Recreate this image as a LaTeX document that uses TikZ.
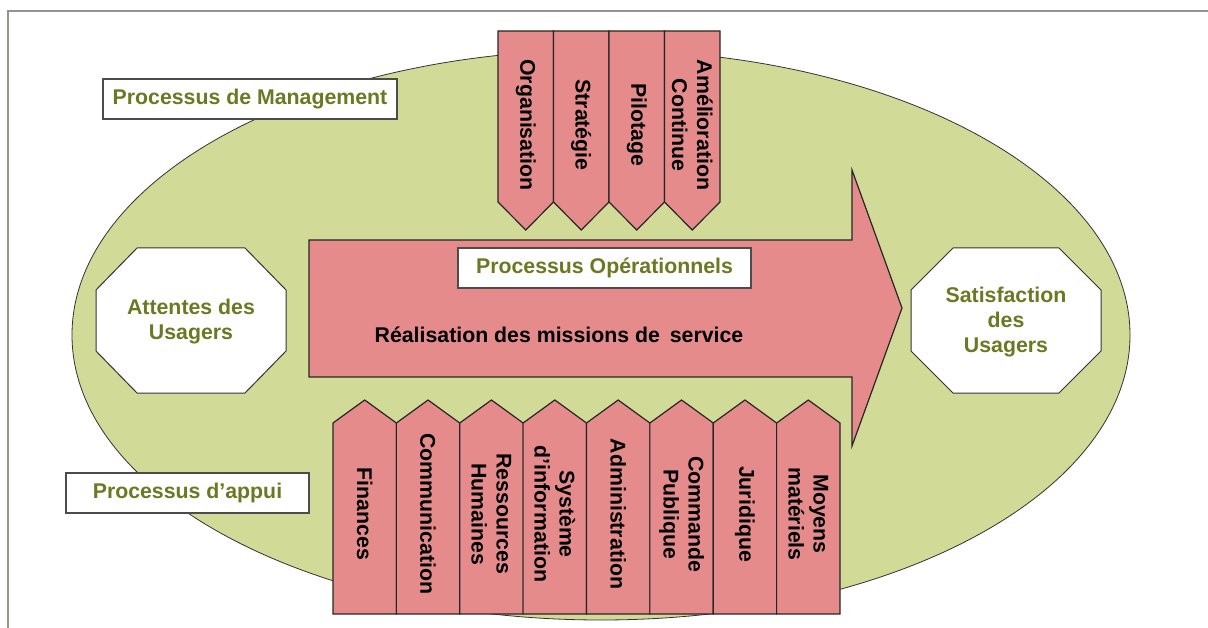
\documentclass[tikz,border=0pt]{standalone}
\usepackage{fontspec}
\setmainfont{Liberation Sans}
\definecolor{ellfill}{RGB}{210,218,152}
\definecolor{pinkfill}{RGB}{229,139,139}
\definecolor{olivetext}{RGB}{108,120,34}
\definecolor{framegray}{RGB}{150,148,138}
\begin{document}
\begin{tikzpicture}[x=1pt,y=-1pt,
  lbl/.style={font=\bfseries\fontsize{21.3}{25}\selectfont, align=center, inner sep=0pt},
  vlab/.style={lbl, rotate=-90},
  labelbox/.style={lbl, draw=black!70, fill=white, line width=1.2pt, text=olivetext},
  pinkshape/.style={fill=pinkfill, draw=black!85, line width=1.2pt, line join=miter},
  octo/.style={fill=white, draw=black!80, line width=1pt},
  greentext/.style={lbl, text=olivetext}]
\useasboundingbox (0,0) rectangle (1208,628);
% frame
\draw[framegray, line width=2pt] (8,628) -- (8,11) -- (1208,11);
% ellipse
\draw[fill=ellfill, draw=black!80, line width=0.8pt] (601,335) ellipse [x radius=529, y radius=285];
% label boxes
\node[labelbox, minimum width=294pt, minimum height=40pt] (mgmt) at (250,99) {Processus de Management};
\node[labelbox, minimum width=243pt, minimum height=40pt] (appui) at (187.5,493) {Processus d’appui};
% big arrow
\draw[pinkshape] (309,240) -- (852,240) -- (852,170) -- (902,308) -- (852,446) -- (852,377) -- (309,377) -- cycle;
\node[labelbox, minimum width=293pt, minimum height=40pt] (oper) at (604.5,268) {Processus Opérationnels};
\node[lbl, text=black] (real) at (559,335) {Réalisation des missions de\hspace{4pt} service};
% management arrows (pointing down)
\foreach \t [count=\i from 0] in {Organisation,Stratégie,Pilotage,{Amélioration\\Continue}}{
  \pgfmathsetmacro\xa{498+55.5*\i}
  \pgfmathsetmacro\xb{\xa+55.5}
  \pgfmathsetmacro\xm{\xa+27.75}
  \draw[pinkshape] (\xa,31) -- (\xb,31) -- (\xb,202) -- (\xm,230) -- (\xa,202) -- cycle;
  \node[vlab] (m\i) at (\xm,125) {\t};
}
% support arrows (pointing up)
\foreach \t [count=\i from 0] in {Finances,Communication,{Ressources\\Humaines},{Système\\d'information},Administration,{Commande\\Publique},Juridique,{Moyens\\matériels}}{
  \pgfmathsetmacro\xa{333+63.375*\i}
  \pgfmathsetmacro\xb{\xa+63.375}
  \pgfmathsetmacro\xm{\xa+31.6875}
  \draw[pinkshape] (\xa,614) -- (\xa,423) -- (\xm,400) -- (\xb,423) -- (\xb,614) -- cycle;
  \node[vlab] (s\i) at (\xm,514) {\t};
}
% octagons
\draw[octo] (137,248) -- (245,248) -- (286,290) -- (286,351) -- (245,393) -- (137,393) -- (96,351) -- (96,290) -- cycle;
\node[greentext] (att) at (191,322) {Attentes des\\Usagers};
\draw[octo] (953,248) -- (1059,248) -- (1101,290) -- (1101,351) -- (1059,393) -- (953,393) -- (911,351) -- (911,290) -- cycle;
\node[greentext] (sat) at (1006,322) {Satisfaction\\des\\Usagers};
\end{tikzpicture}
\end{document}
